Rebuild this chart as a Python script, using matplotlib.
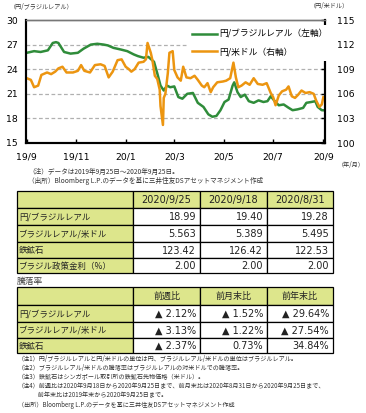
import matplotlib
matplotlib.use('Agg')
import matplotlib.pyplot as plt
import pandas as pd
from matplotlib.patches import Rectangle

plt.rcParams['font.family'] = ['Noto Sans CJK JP', 'DejaVu Sans']

# ---------------- data ----------------
brl_dates = ['2019-09-25', '2019-10-04', '2019-10-12', '2019-10-21', '2019-10-27', '2019-10-31',
             '2019-11-03', '2019-11-10', '2019-11-18', '2019-11-27', '2019-12-04', '2019-12-13',
             '2019-12-21', '2019-12-29', '2020-01-03', '2020-01-10', '2020-01-19', '2020-01-27',
             '2020-02-04', '2020-02-09', '2020-02-16', '2020-02-22', '2020-02-29', '2020-03-04',
             '2020-03-08', '2020-03-12', '2020-03-16', '2020-03-20', '2020-03-25', '2020-03-30',
             '2020-04-04', '2020-04-10', '2020-04-17', '2020-04-23', '2020-04-30', '2020-05-06',
             '2020-05-11', '2020-05-16', '2020-05-21', '2020-05-26', '2020-05-31', '2020-06-05',
             '2020-06-07', '2020-06-11', '2020-06-15', '2020-06-20', '2020-06-25', '2020-07-01',
             '2020-07-07', '2020-07-13', '2020-07-18', '2020-07-22', '2020-07-27', '2020-08-01',
             '2020-08-07', '2020-08-13', '2020-08-18', '2020-08-24', '2020-08-31', '2020-09-04',
             '2020-09-10', '2020-09-15', '2020-09-18', '2020-09-23', '2020-09-25']
brl_values = [26.0, 26.2, 26.1, 26.3, 27.2, 27.3,
              27.2, 26.1, 25.9, 26.0, 26.5, 27.0,
              27.1, 27.0, 26.9, 26.6, 26.4, 26.2,
              25.8, 25.6, 25.4, 25.5, 24.9, 23.5,
              22.0, 21.4, 22.0, 21.8, 21.9, 20.6,
              20.4, 21.0, 21.1, 19.9, 19.4, 18.5,
              18.2, 18.3, 19.0, 20.0, 20.3, 22.0,
              22.4, 21.2, 20.6, 20.9, 20.1, 19.9,
              20.2, 20.0, 20.1, 20.7, 20.1, 19.6,
              19.7, 19.3, 19.0, 19.1, 19.28, 19.9,
              20.0, 20.1, 19.40, 19.0, 18.99]

usd_dates = ['2019-09-25', '2019-09-30', '2019-10-04', '2019-10-09', '2019-10-13', '2019-10-20',
             '2019-10-25', '2019-10-30', '2019-11-03', '2019-11-08', '2019-11-13', '2019-11-21',
             '2019-11-27', '2019-12-01', '2019-12-05', '2019-12-12', '2019-12-18', '2019-12-25',
             '2019-12-30', '2020-01-04', '2020-01-09', '2020-01-15', '2020-01-20', '2020-01-25',
             '2020-01-29', '2020-02-01', '2020-02-05', '2020-02-10', '2020-02-16', '2020-02-19',
             '2020-02-21', '2020-02-25', '2020-02-27', '2020-03-01', '2020-03-04', '2020-03-07',
             '2020-03-08', '2020-03-11', '2020-03-12', '2020-03-14', '2020-03-17', '2020-03-19',
             '2020-03-23', '2020-03-25', '2020-03-29', '2020-04-02', '2020-04-05', '2020-04-09',
             '2020-04-14', '2020-04-19', '2020-04-23', '2020-04-28', '2020-05-01', '2020-05-05',
             '2020-05-09', '2020-05-12', '2020-05-17', '2020-05-24', '2020-05-28', '2020-06-02',
             '2020-06-06', '2020-06-09', '2020-06-12', '2020-06-16', '2020-06-21', '2020-06-26',
             '2020-07-01', '2020-07-06', '2020-07-12', '2020-07-17', '2020-07-22', '2020-07-25',
             '2020-07-28', '2020-08-01', '2020-08-05', '2020-08-10', '2020-08-13', '2020-08-17',
             '2020-08-21', '2020-08-25', '2020-08-29', '2020-09-03', '2020-09-08', '2020-09-13',
             '2020-09-16', '2020-09-20', '2020-09-23', '2020-09-25']
usd_values = [107.9, 107.7, 106.8, 107.0, 108.3, 108.6,
              108.4, 108.7, 109.1, 109.3, 108.6, 108.6,
              108.8, 109.5, 108.8, 108.6, 109.5, 109.6,
              109.4, 108.0, 108.7, 110.1, 110.2, 109.3,
              109.0, 108.7, 109.0, 109.8, 109.9, 110.2,
              112.2, 111.0, 110.1, 108.2, 107.8, 106.5,
              104.5, 102.2, 105.5, 106.0, 108.5, 111.0,
              111.2, 108.9, 108.0, 107.6, 109.3, 108.0,
              107.9, 108.2, 107.7, 107.0, 106.8, 107.3,
              106.2, 106.8, 107.4, 107.5, 107.6, 107.9,
              109.8, 108.0, 106.8, 107.0, 107.4, 107.1,
              107.9, 107.2, 107.1, 107.3, 106.1, 105.6,
              104.6, 105.8, 106.3, 106.5, 106.9, 105.7,
              105.5, 105.9, 106.4, 106.1, 106.2, 106.0,
              105.2, 104.4, 104.7, 105.6]

series_labels = ['円/ブラジルレアル（左軸）', '円/米ドル（右軸）']
xtick_dates = ['2019-09-25', '2019-11-25', '2020-01-25', '2020-03-25', '2020-05-25', '2020-07-25', '2020-09-25']
xtick_labels = ['19/9', '19/11', '20/1', '20/3', '20/5', '20/7', '20/9']
left_ticks = [15, 18, 21, 24, 27, 30]
right_ticks = [100, 103, 106, 109, 112, 115]

t1_cols = ['2020/9/25', '2020/9/18', '2020/8/31']
t1_rows = ['円/ブラジルレアル', 'ブラジルレアル/米ドル', '鉄鉱石', 'ブラジル政策金利（%）']
t1_vals = [[18.99, 19.40, 19.28],
           [5.563, 5.389, 5.495],
           [123.42, 126.42, 122.53],
           [2.00, 2.00, 2.00]]
t1_decimals = [2, 3, 2, 2]

t2_title = '騰落率'
t2_cols = ['前週比', '前月末比', '前年末比']
t2_rows = ['円/ブラジルレアル', 'ブラジルレアル/米ドル', '鉄鉱石']
t2_vals = [[-2.12, -1.52, -29.64],
           [-3.13, -1.22, -27.54],
           [-2.37, 0.73, 34.84]]

chart_notes = ['（注）データは2019年9月25日～2020年9月25日。',
               '（出所）Bloomberg L.P.のデータを基に三井住友DSアセットマネジメント作成']
footnotes = ['（注1）円/ブラジルレアルと円/米ドルの単位は円、ブラジルレアル/米ドルの単位はブラジルレアル。',
             '（注2）ブラジルレアル/米ドルの騰落率はブラジルレアルの対米ドルでの騰落率。',
             '（注3）鉄鉱石はシンガポール取引所の鉄鉱石先物価格（米ドル）。',
             '（注4）前週比は2020年9月18日から2020年9月25日まで、前月末比は2020年8月31日から2020年9月25日まで、',
             '　　　 前年末比は2019年末から2020年9月25日まで。',
             '（出所）Bloomberg L.P.のデータを基に三井住友DSアセットマネジメント作成']

# ---------------- figure ----------------
W, H = 366, 413
fig = plt.figure(figsize=(W / 100, H / 100), dpi=100)

def rect(x0, y0, x1, y1):
    return [x0 / W, 1 - y1 / H, (x1 - x0) / W, (y1 - y0) / H]

GREEN = '#2f8c3a'
ORANGE = '#ec9510'
HDR = '#dde68c'
NUMF = ['DejaVu Sans']
JPF = ['Noto Sans CJK JP', 'DejaVu Sans']

ax = fig.add_axes(rect(26, 20, 325, 143))
ax2 = ax.twinx()

bd = pd.to_datetime(brl_dates)
ud = pd.to_datetime(usd_dates)
l1, = ax.plot(bd, brl_values, color=GREEN, lw=1.8, solid_joinstyle='round')
l2, = ax2.plot(ud, usd_values, color=ORANGE, lw=1.8, solid_joinstyle='round')

ax.set_ylim(15, 30)
ax2.set_ylim(100, 115)
ax.set_yticks(left_ticks)
ax2.set_yticks(right_ticks)
ax.set_xlim(pd.Timestamp('2019-09-24'), pd.Timestamp('2020-09-27'))
ax.set_xticks(pd.to_datetime(xtick_dates))
ax.set_xticklabels(xtick_labels)

for g in left_ticks[1:-1]:
    ax.axhline(g, color='#b0b0b0', lw=0.9, ls=(0, (3, 2)), zorder=0.5)

ax.tick_params(axis='x', direction='in', length=3, width=1, pad=7, labelsize=6.7)
ax.tick_params(axis='y', direction='in', length=0, pad=6, labelsize=6.7)
ax2.tick_params(axis='y', direction='in', length=3, width=1, pad=9, labelsize=6.7)
for a in (ax, ax2):
    for lab in a.get_xticklabels() + a.get_yticklabels():
        lab.set_fontfamily(NUMF)
    for s in ('left', 'bottom', 'right'):
        a.spines[s].set_linewidth(1.5)
        a.spines[s].set_color('black')
    a.spines['top'].set_linewidth(1.0)
    a.spines['top'].set_color('#777777')

leg = ax2.legend([l1, l2], series_labels, loc='upper left',
                 bbox_to_anchor=((183 - 26) / 299, 1 - 1 / 123),
                 frameon=True, fancybox=False, framealpha=1, edgecolor='white',
                 prop={'family': JPF, 'size': 6.3}, handlelength=2.9,
                 handletextpad=0.3, labelspacing=1.0, borderpad=0.5)
leg.get_frame().set_linewidth(0)

# overlay for text and tables
ov = fig.add_axes([0, 0, 1, 1])
ov.set_xlim(0, W)
ov.set_ylim(H, 0)
ov.axis('off')
ov.patch.set_alpha(0)

ov.text(10, 7, '（円/ブラジルレアル）', fontsize=4.4, family=JPF, va='center', ha='left', color='#333333')
ov.text(349, 6, '（円/米ドル）', fontsize=4.4, family=JPF, va='center', ha='right', color='#333333')
ov.text(365, 165, '（年/月）', fontsize=4.4, family=JPF, va='center', ha='right', color='#333333')
ov.text(28, 172, chart_notes[0], fontsize=4.8, family=JPF, va='center', ha='left', color='#333333')
ov.text(28, 181, chart_notes[1], fontsize=4.8, family=JPF, va='center', ha='left', color='#333333')

def draw_table(col_edges, row_edges, cols, rows, texts):
    nr = len(row_edges) - 1
    nc = len(col_edges) - 1
    for i in range(nr):
        for j in range(nc):
            fill = HDR if (i == 0 or j == 0) else 'white'
            ov.add_patch(Rectangle((col_edges[j], row_edges[i]),
                                   col_edges[j + 1] - col_edges[j],
                                   row_edges[i + 1] - row_edges[i],
                                   facecolor=fill, edgecolor='black', lw=0.9))
    for j, c in enumerate(cols):
        xc = (col_edges[j + 1] + col_edges[j + 2]) / 2
        yc = (row_edges[0] + row_edges[1]) / 2
        fam = NUMF if c[0].isdigit() else JPF
        fs = 7.0 if c[0].isdigit() else 6.5
        ov.text(xc, yc + 0.5, c, fontsize=fs, family=fam, ha='center', va='center', color='#222222')
    for i, r in enumerate(rows):
        yc = (row_edges[i + 1] + row_edges[i + 2]) / 2
        ov.text(col_edges[0] + 2, yc + 0.5, r, fontsize=6.1, family=JPF, ha='left', va='center', color='#222222')
        for j, t in enumerate(texts[i]):
            ov.text(col_edges[j + 2] - 4, yc + 0.5, t, fontsize=7.0, family=NUMF,
                    ha='right', va='center', color='#222222')

t1_text = [[f'{v:.{d}f}' for v in row] for row, d in zip(t1_vals, t1_decimals)]
draw_table([17, 133, 200, 267, 333], [191, 208, 225, 242, 258, 273], t1_cols, t1_rows, t1_text)

ov.text(17, 281, t2_title, fontsize=6.3, family=JPF, ha='left', va='center', color='#444444')

t2_text = [[(f'▲ {abs(v):.2f}%' if v < 0 else f'{v:.2f}%') for v in row] for row in t2_vals]
draw_table([17, 133, 200, 267, 333], [287, 305, 322, 338, 353], t2_cols, t2_rows, t2_text)

fy = [359, 368, 377, 386.5, 395, 405]
for y, t in zip(fy, footnotes):
    ov.text(18, y, t, fontsize=4.4, family=JPF, ha='left', va='center', color='#333333')

fig.savefig('out.png', dpi=100)
